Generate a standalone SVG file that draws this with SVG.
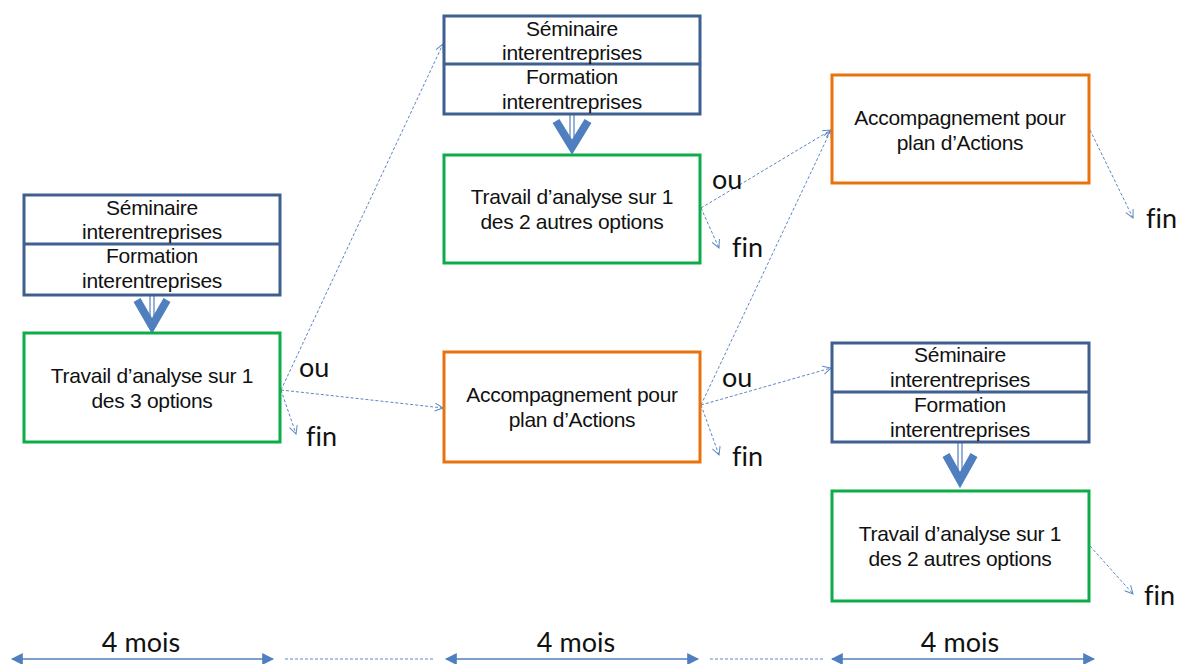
<svg xmlns="http://www.w3.org/2000/svg" width="1180" height="664" viewBox="0 0 1180 664">
<style>
.b{fill:#fff;stroke:#3e5f8f;stroke-width:3}
.g{fill:#fff;stroke:#0cad48;stroke-width:3}
.o{fill:#fff;stroke:#e8720c;stroke-width:3}
.t{font-family:"Liberation Sans",Arial,sans-serif;font-size:21px;fill:#111;text-anchor:middle;letter-spacing:-0.3px}
.c{font-family:Lato,"Open Sans",sans-serif;font-size:27px;fill:#111;font-variant-ligatures:none}
.d{fill:none;stroke:#5b87c4;stroke-width:1;stroke-dasharray:3,2}
.s{fill:none;stroke:#4f7fbf;stroke-width:1.5}
.bigv{fill:none;stroke:#4f7fbf;stroke-width:8;stroke-linejoin:miter}
.dl{stroke:#4f7fbf;stroke-width:1.2}
</style>
<defs>
<marker id="ah" viewBox="0 0 10 10" refX="9" refY="5" markerWidth="10" markerHeight="10" markerUnits="userSpaceOnUse" orient="auto"><path d="M1,1 L9,5 L1,9" fill="none" stroke="#5b87c4" stroke-width="1"/></marker>
<marker id="fa" viewBox="0 0 10 10" refX="9" refY="5" markerWidth="12" markerHeight="12" markerUnits="userSpaceOnUse" orient="auto"><path d="M0,0 L10,5 L0,10 z" fill="#4f7fbf"/></marker>
<marker id="fs" viewBox="0 0 10 10" refX="1" refY="5" markerWidth="12" markerHeight="12" markerUnits="userSpaceOnUse" orient="auto"><path d="M10,0 L0,5 L10,10 z" fill="#4f7fbf"/></marker>
</defs>

<g id="connectors">
<path class="d" d="M281,390 L443,44" marker-end="url(#ah)"/>
<path class="d" d="M281,390 L443,408" marker-end="url(#ah)"/>
<path class="d" d="M281,390 L296,434" marker-end="url(#ah)"/>
<path class="d" d="M701,208 L831,130" marker-end="url(#ah)"/>
<path class="d" d="M701,208 L719,248" marker-end="url(#ah)"/>
<path class="d" d="M701,405 L831,130" marker-end="url(#ah)"/>
<path class="d" d="M701,405 L831,368" marker-end="url(#ah)"/>
<path class="d" d="M701,405 L719,455" marker-end="url(#ah)"/>
<path class="d" d="M1090,130 L1133,218" marker-end="url(#ah)"/>
<path class="d" d="M1090,546 L1133,594" marker-end="url(#ah)"/>
<g id="dbl1"><line class="dl" x1="150" y1="296" x2="150" y2="322"/><line class="dl" x1="154" y1="296" x2="154" y2="322"/><path class="bigv" d="M137,300 L152,326 L167,300"/></g>
<g id="dbl2"><line class="dl" x1="570" y1="115" x2="570" y2="142"/><line class="dl" x1="574" y1="115" x2="574" y2="142"/><path class="bigv" d="M556,121 L572,147 L588,121"/></g>
<g id="dbl3"><line class="dl" x1="958" y1="443" x2="958" y2="470"/><line class="dl" x1="962" y1="443" x2="962" y2="470"/><path class="bigv" d="M946,455 L960,480 L974,455"/></g>
<path class="s" d="M12,659 L273,659" marker-start="url(#fs)" marker-end="url(#fa)"/>
<path class="d" d="M285,659 L433,659"/>
<path class="s" d="M446,659 L698,659" marker-start="url(#fs)" marker-end="url(#fa)"/>
<path class="d" d="M710,659 L825,659"/>
<path class="s" d="M832,659 L1094,659" marker-start="url(#fs)" marker-end="url(#fa)"/>
</g>

<g id="n_formation1">
<rect class="b" x="24" y="195" width="256" height="100"/>
<line x1="24" y1="244" x2="280" y2="244" stroke="#3e5f8f" stroke-width="3"/>
<text class="t" x="152" y="215">Séminaire</text>
<text class="t" x="152" y="239">interentreprises</text>
<text class="t" x="152" y="263">Formation</text>
<text class="t" x="152" y="288">interentreprises</text>
</g>
<g id="n_travail1">
<rect class="g" x="24" y="333" width="256" height="109"/>
<text class="t" x="152" y="383">Travail d’analyse sur 1</text>
<text class="t" x="152" y="408">des 3 options</text>
</g>

<g id="n_formation2">
<rect class="b" x="444" y="16" width="256" height="98"/>
<line x1="444" y1="64" x2="700" y2="64" stroke="#3e5f8f" stroke-width="3"/>
<text class="t" x="572" y="36">Séminaire</text>
<text class="t" x="572" y="60">interentreprises</text>
<text class="t" x="572" y="84">Formation</text>
<text class="t" x="572" y="109">interentreprises</text>
</g>
<g id="n_travail2">
<rect class="g" x="444" y="155" width="256" height="108"/>
<text class="t" x="572" y="204">Travail d’analyse sur 1</text>
<text class="t" x="572" y="229">des 2 autres options</text>
</g>
<g id="n_accomp1">
<rect class="o" x="444" y="352" width="256" height="110"/>
<text class="t" x="572" y="402">Accompagnement pour</text>
<text class="t" x="572" y="427">plan d’Actions</text>
</g>

<g id="n_accomp2">
<rect class="o" x="832" y="75" width="257" height="108"/>
<text class="t" x="960" y="125">Accompagnement pour</text>
<text class="t" x="960" y="150">plan d’Actions</text>
</g>
<g id="n_formation3">
<rect class="b" x="832" y="343" width="257" height="99"/>
<line x1="832" y1="392" x2="1089" y2="392" stroke="#3e5f8f" stroke-width="3"/>
<text class="t" x="960" y="362">Séminaire</text>
<text class="t" x="960" y="387">interentreprises</text>
<text class="t" x="960" y="412">Formation</text>
<text class="t" x="960" y="437">interentreprises</text>
</g>
<g id="n_travail3">
<rect class="g" x="832" y="491" width="257" height="110"/>
<text class="t" x="960" y="541">Travail d’analyse sur 1</text>
<text class="t" x="960" y="566">des 2 autres options</text>
</g>

<g id="labels">
<text class="c" x="299" y="377">ou</text>
<text class="c" x="306" y="446">fin</text>
<text class="c" x="712" y="189">ou</text>
<text class="c" x="732" y="257">fin</text>
<text class="c" x="722" y="387">ou</text>
<text class="c" x="732" y="466">fin</text>
<text class="c" x="1146" y="228">fin</text>
<text class="c" x="1144" y="605">fin</text>
<text class="c" x="141" y="652" text-anchor="middle">4 mois</text>
<text class="c" x="576" y="652" text-anchor="middle">4 mois</text>
<text class="c" x="960" y="652" text-anchor="middle">4 mois</text>
</g>
</svg>
